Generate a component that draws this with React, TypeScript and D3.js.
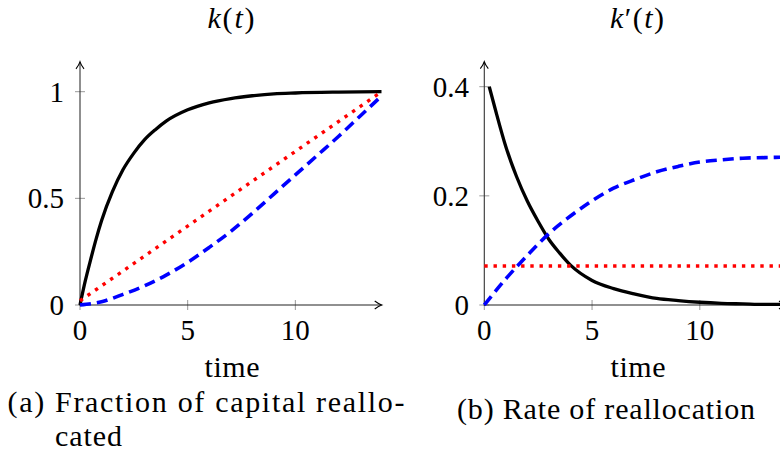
import React from "react";
import * as d3 from "d3";

// ---- data ----
const TIME_K_SOLID = [0, 0.25, 0.5, 0.75, 1, 1.5, 2, 2.5, 3, 3.5, 4, 5, 6, 7, 8, 9, 10, 12, 14];
const K_SOLID = [0, 0.115, 0.215, 0.31, 0.395, 0.53, 0.635, 0.712, 0.775, 0.822, 0.862, 0.915, 0.948, 0.968, 0.981, 0.99, 0.994, 0.998, 1.0];
const TIME_K_DOTTED = [0, 14];
const K_DOTTED = [0.02, 1.0];
const TIME_K_DASHED = [0, 1, 2, 3, 4, 5, 6, 7, 8, 9, 10, 11, 12, 13, 14];
const K_DASHED = [0, 0.015, 0.05, 0.09, 0.14, 0.2, 0.27, 0.345, 0.43, 0.52, 0.61, 0.7, 0.79, 0.885, 0.98];

const TIME_R_SOLID = [0.23, 0.5, 1, 1.5, 2, 2.5, 3, 3.5, 4, 5, 6, 7, 8, 9, 10, 11, 12, 13, 14];
const R_SOLID = [0.4, 0.36, 0.29, 0.235, 0.19, 0.153, 0.12, 0.095, 0.073, 0.045, 0.03, 0.02, 0.012, 0.008, 0.005, 0.003, 0.002, 0.001, 0.001];
const TIME_R_DOTTED = [0, 14];
const R_DOTTED = [0.0714, 0.0714];
const TIME_R_DASHED = [0, 1, 2, 3, 4, 5, 6, 7, 8, 9, 10, 11, 12, 13, 14];
const R_DASHED = [0, 0.048, 0.091, 0.131, 0.163, 0.191, 0.214, 0.23, 0.244, 0.254, 0.262, 0.266, 0.269, 0.27, 0.271];

const X_TICKS = [0, 5, 10];
const K_TICKS = [0, 0.5, 1];
const K_TICK_LABELS = ["0", "0.5", "1"];
const R_TICKS = [0, 0.2, 0.4];
const R_TICK_LABELS = ["0", "0.2", "0.4"];

const FONT = "Liberation Serif, DejaVu Serif, serif";
const FS = 29;
const FS_TEXT = 30;

type Series = { t: number[]; v: number[]; style: "solid" | "dotted" | "dashed" };

const STYLE: Record<string, React.SVGProps<SVGPathElement>> = {
  solid: { stroke: "#000", strokeWidth: 3.3 },
  dotted: { stroke: "#ff0000", strokeWidth: 3.4, strokeDasharray: "3.4 5.8" },
  dashed: { stroke: "#0000ff", strokeWidth: 3.6, strokeDasharray: "11 6" },
};

function Panel(props: {
  x0: number; x1: number; yTop: number; yBottom: number;
  yMax: number; yArrow: number; xArrow: number;
  yTicks: number[]; yLabels: string[]; labelRight: number;
  series: Series[];
}) {
  const { x0, x1, yTop, yBottom, yMax, yArrow, xArrow, yTicks, yLabels, labelRight, series } = props;
  const x = d3.scaleLinear().domain([0, 14]).range([x0, x1]);
  const y = d3.scaleLinear().domain([0, yMax]).range([yBottom, yTop]);
  const line = d3
    .line<[number, number]>()
    .x((d) => x(d[0]))
    .y((d) => y(d[1]))
    .curve(d3.curveMonotoneX);
  const ax = x(0);
  const ay = y(0);
  const tipY = y(yArrow);
  const tipX = x(xArrow);
  return (
    <g>
      {X_TICKS.map((t) => (
        <line key={"xt" + t} x1={x(t)} x2={x(t)} y1={ay - 5} y2={ay + 5} stroke="#999" strokeWidth={1} />
      ))}
      {yTicks.map((t) => (
        <line key={"yt" + t} x1={ax - 5} x2={ax + 5} y1={y(t)} y2={y(t)} stroke="#999" strokeWidth={1} />
      ))}
      <line x1={ax} x2={ax} y1={ay + 1} y2={tipY} stroke="#333" strokeWidth={1.1} />
      <line x1={ax} x2={tipX} y1={ay} y2={ay} stroke="#222" strokeWidth={1.1} />
      <path
        d={`M${ax - 4},${tipY + 7} Q${ax - 1},${tipY + 3} ${ax},${tipY} Q${ax + 1},${tipY + 3} ${ax + 4},${tipY + 7}`}
        fill="none" stroke="#000" strokeWidth={1.1}
      />
      <path
        d={`M${tipX - 7},${ay - 4} Q${tipX - 3},${ay - 1} ${tipX},${ay} Q${tipX - 3},${ay + 1} ${tipX - 7},${ay + 4}`}
        fill="none" stroke="#000" strokeWidth={1.1}
      />
      {series.map((s, i) => (
        <path
          key={i}
          d={line(s.t.map((t, j) => [t, s.v[j]] as [number, number])) || ""}
          fill="none"
          strokeLinecap="butt"
          {...STYLE[s.style]}
        />
      ))}
      {X_TICKS.map((t) => (
        <text key={"xl" + t} x={x(t)} y={340} textAnchor="middle" fontFamily={FONT} fontSize={FS}>
          {t}
        </text>
      ))}
      {yTicks.map((t, i) => (
        <text key={"yl" + t} x={labelRight} y={y(t)} dy="0.34em" textAnchor="end" fontFamily={FONT} fontSize={FS}>
          {yLabels[i]}
        </text>
      ))}
    </g>
  );
}

export default function App() {
  return (
    <svg
      width={780}
      height={452}
      viewBox="0 0 780 452"
      style={{ position: "absolute", left: 0, top: 0, background: "#fff" }}
    >
      <rect x={0} y={0} width={780} height={452} fill="#fff" />
      <Panel
        x0={80} x1={381.5} yTop={91.7} yBottom={305} yMax={1}
        yArrow={1.14} xArrow={14.01}
        yTicks={K_TICKS} yLabels={K_TICK_LABELS} labelRight={64}
        series={[
          { t: TIME_K_SOLID, v: K_SOLID, style: "solid" },
          { t: TIME_K_DOTTED, v: K_DOTTED, style: "dotted" },
          { t: TIME_K_DASHED, v: K_DASHED, style: "dashed" },
        ]}
      />
      <Panel
        x0={484.3} x1={786} yTop={86.7} yBottom={305} yMax={0.4}
        yArrow={0.4458} xArrow={14.0}
        yTicks={R_TICKS} yLabels={R_TICK_LABELS} labelRight={469}
        series={[
          { t: TIME_R_SOLID, v: R_SOLID, style: "solid" },
          { t: TIME_R_DOTTED, v: R_DOTTED, style: "dotted" },
          { t: TIME_R_DASHED, v: R_DASHED, style: "dashed" },
        ]}
      />
      <text x={231} y={28} textAnchor="middle" fontFamily={FONT} fontSize={FS_TEXT} textLength={47} lengthAdjust="spacing">
        <tspan fontStyle="italic">k</tspan>(<tspan fontStyle="italic">t</tspan>)
      </text>
      <text x={637} y={28} textAnchor="middle" fontFamily={FONT} fontSize={FS_TEXT} textLength={54} lengthAdjust="spacing">
        <tspan fontStyle="italic">k</tspan>′(<tspan fontStyle="italic">t</tspan>)
      </text>
      <text x={232} y={377} textAnchor="middle" fontFamily={FONT} fontSize={FS_TEXT} textLength={55} lengthAdjust="spacing">time</text>
      <text x={638} y={377} textAnchor="middle" fontFamily={FONT} fontSize={FS_TEXT} textLength={55} lengthAdjust="spacing">time</text>
      <text x={7.5} y={412} fontFamily={FONT} fontSize={FS_TEXT} textLength={397} lengthAdjust="spacing">(a) Fraction of capital reallo-</text>
      <text x={55} y={446} fontFamily={FONT} fontSize={FS_TEXT} textLength={67} lengthAdjust="spacing">cated</text>
      <text x={457} y={419} fontFamily={FONT} fontSize={FS_TEXT} textLength={298} lengthAdjust="spacing">(b) Rate of reallocation</text>
    </svg>
  );
}
